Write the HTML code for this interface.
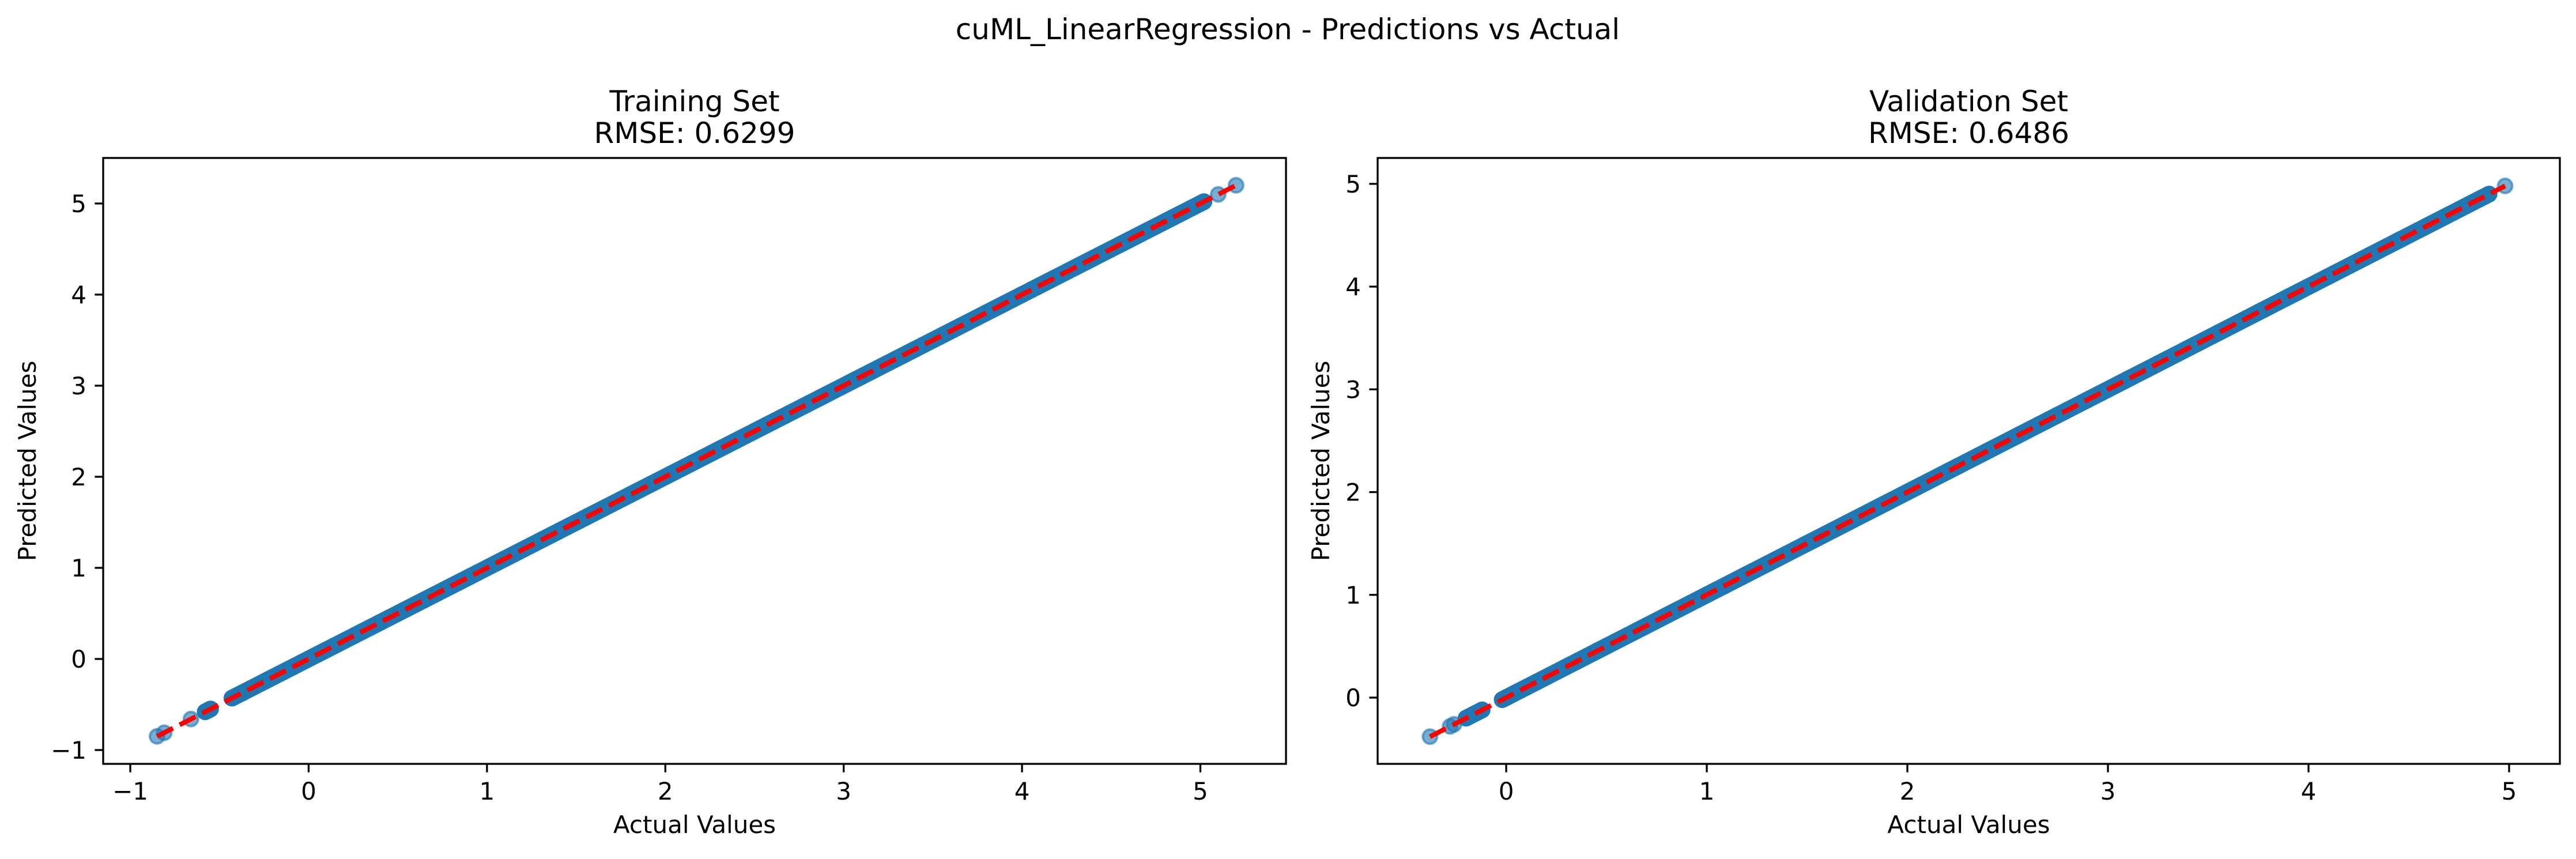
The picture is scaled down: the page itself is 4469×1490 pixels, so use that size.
<!DOCTYPE html>
<html><head><meta charset="utf-8"><style>
html,body{margin:0;padding:0;background:#fff;}
svg text{font-family:"DejaVu Sans","Liberation Sans",sans-serif;fill:#000;}
</style></head><body>
<svg id="fig" width="4469" height="1485" xmlns="http://www.w3.org/2000/svg">
<rect width="4469" height="1485" fill="#fff"/>
<text x="2234" y="68" font-size="50" text-anchor="middle">cuML_LinearRegression - Predictions vs Actual</text>
</svg>
<script>
const trainActual=[-0.85,-0.81,-0.66,-0.58,-0.56,-0.55,-0.43,-0.41,-0.38,-0.33,-0.30,-0.27,-0.24,-0.20,-0.15,-0.10,-0.05,0.00,0.05,0.10,0.15,0.20,0.25,0.30,0.35,0.40,0.45,0.50,0.55,0.60,0.65,0.70,0.75,0.80,0.85,0.90,0.95,1.00,1.05,1.10,1.15,1.20,1.25,1.30,1.35,1.40,1.45,1.50,1.55,1.60,1.65,1.70,1.75,1.80,1.85,1.90,1.95,2.00,2.05,2.10,2.15,2.20,2.25,2.30,2.35,2.40,2.45,2.50,2.55,2.60,2.65,2.70,2.75,2.80,2.85,2.90,2.95,3.00,3.05,3.10,3.15,3.20,3.25,3.30,3.35,3.40,3.45,3.50,3.55,3.60,3.65,3.70,3.75,3.80,3.85,3.90,3.95,4.00,4.05,4.10,4.15,4.20,4.25,4.30,4.35,4.40,4.45,4.50,4.55,4.60,4.65,4.70,4.75,4.80,4.85,4.90,4.95,5.00,5.02,5.10,5.20];
const trainPredicted=[-0.85,-0.81,-0.66,-0.58,-0.56,-0.55,-0.43,-0.41,-0.38,-0.33,-0.30,-0.27,-0.24,-0.20,-0.15,-0.10,-0.05,0.00,0.05,0.10,0.15,0.20,0.25,0.30,0.35,0.40,0.45,0.50,0.55,0.60,0.65,0.70,0.75,0.80,0.85,0.90,0.95,1.00,1.05,1.10,1.15,1.20,1.25,1.30,1.35,1.40,1.45,1.50,1.55,1.60,1.65,1.70,1.75,1.80,1.85,1.90,1.95,2.00,2.05,2.10,2.15,2.20,2.25,2.30,2.35,2.40,2.45,2.50,2.55,2.60,2.65,2.70,2.75,2.80,2.85,2.90,2.95,3.00,3.05,3.10,3.15,3.20,3.25,3.30,3.35,3.40,3.45,3.50,3.55,3.60,3.65,3.70,3.75,3.80,3.85,3.90,3.95,4.00,4.05,4.10,4.15,4.20,4.25,4.30,4.35,4.40,4.45,4.50,4.55,4.60,4.65,4.70,4.75,4.80,4.85,4.90,4.95,5.00,5.02,5.10,5.20];
const valActual=[-0.38,-0.28,-0.26,-0.20,-0.15,-0.12,-0.02,0.00,0.03,0.07,0.10,0.15,0.20,0.25,0.30,0.35,0.40,0.45,0.50,0.55,0.60,0.65,0.70,0.75,0.80,0.85,0.90,0.95,1.00,1.05,1.10,1.15,1.20,1.25,1.30,1.35,1.40,1.45,1.50,1.55,1.60,1.65,1.70,1.75,1.80,1.85,1.90,1.95,2.00,2.05,2.10,2.15,2.20,2.25,2.30,2.35,2.40,2.45,2.50,2.55,2.60,2.65,2.70,2.75,2.80,2.85,2.90,2.95,3.00,3.05,3.10,3.15,3.20,3.25,3.30,3.35,3.40,3.45,3.50,3.55,3.60,3.65,3.70,3.75,3.80,3.85,3.90,3.95,4.00,4.05,4.10,4.15,4.20,4.25,4.30,4.35,4.40,4.45,4.50,4.55,4.60,4.65,4.70,4.75,4.80,4.85,4.90,4.98];
const valPredicted=[-0.38,-0.28,-0.26,-0.20,-0.15,-0.12,-0.02,0.00,0.03,0.07,0.10,0.15,0.20,0.25,0.30,0.35,0.40,0.45,0.50,0.55,0.60,0.65,0.70,0.75,0.80,0.85,0.90,0.95,1.00,1.05,1.10,1.15,1.20,1.25,1.30,1.35,1.40,1.45,1.50,1.55,1.60,1.65,1.70,1.75,1.80,1.85,1.90,1.95,2.00,2.05,2.10,2.15,2.20,2.25,2.30,2.35,2.40,2.45,2.50,2.55,2.60,2.65,2.70,2.75,2.80,2.85,2.90,2.95,3.00,3.05,3.10,3.15,3.20,3.25,3.30,3.35,3.40,3.45,3.50,3.55,3.60,3.65,3.70,3.75,3.80,3.85,3.90,3.95,4.00,4.05,4.10,4.15,4.20,4.25,4.30,4.35,4.40,4.45,4.50,4.55,4.60,4.65,4.70,4.75,4.80,4.85,4.90,4.98];
const trainXTicks=[-1,0,1,2,3,4,5];
const trainYTicks=[-1,0,1,2,3,4,5];
const valXTicks=[0,1,2,3,4,5];
const valYTicks=[0,1,2,3,4,5];
const trainTitle=["Training Set","RMSE: 0.6299"];
const valTitle=["Validation Set","RMSE: 0.6486"];

const NS="http://www.w3.org/2000/svg";
const svg=document.getElementById('fig');
function mk(tag,attrs,parent){const e=document.createElementNS(NS,tag);for(const k in attrs)e.setAttribute(k,attrs[k]);(parent||svg).appendChild(e);return e;}
const fmt=v=>v<0?'\u2212'+Math.abs(v):String(v);

function panel(p){
  const g=mk('g',{});
  
  
  const sx=v=>p.l+(v-p.xmin)/(p.xmax-p.xmin)*(p.r-p.l);
  const sy=v=>p.b-(v-p.ymin)/(p.ymax-p.ymin)*(p.b-p.t);
  // points
  p.xs.forEach((v,i)=>{
    const c=mk('circle',{cx:sx(v),cy:sy(p.ys[i]),r:12.5,fill:'rgba(31,119,180,0.6)',stroke:'rgba(31,119,180,0.6)','stroke-width':4},g);
    
    
  });
  // dense band: connect consecutive close points (heavy overlap renders solid)
  let seg=[];
  const flush=()=>{
    if(seg.length>2){
      const pl=mk('polyline',{points:seg.map(q=>q.join(',')).join(' '),fill:'none',stroke:'#1f77b4','stroke-width':29,'stroke-linecap':'round','stroke-linejoin':'round'},g);
      
      
    }
    seg=[];
  };
  for(let i=0;i<p.xs.length;i++){
    if(i>0 && p.xs[i]-p.xs[i-1]>0.055) flush();
    seg.push([sx(p.xs[i]),sy(p.ys[i])]);
  }
  flush();
  const mn=Math.min(...p.xs),mx=Math.max(...p.xs);
  const ln=mk('line',{x1:sx(mn),y1:sy(mn),x2:sx(mx),y2:sy(mx),stroke:'#ff0000','stroke-width':8.3,'stroke-dasharray':'31 13'},g);
  
  
  const fr=mk('rect',{x:p.l,y:p.t,width:p.r-p.l,height:p.b-p.t,fill:'none',stroke:'#000','stroke-width':3.3},g);
  
  
  p.xt.forEach(v=>{
    const x=sx(v);
    mk('line',{x1:x,y1:p.b,x2:x,y2:p.b+14.6,stroke:'#000','stroke-width':3.3},g);
    const t=mk('text',{x:x,y:1387,'font-size':42,'text-anchor':'middle'},g);
    t.textContent=fmt(v);
    
    
  });
  p.yt.forEach(v=>{
    const y=sy(v);
    mk('line',{x1:p.l,y1:y,x2:p.l-14.6,y2:y,stroke:'#000','stroke-width':3.3},g);
    const t=mk('text',{x:p.l-29,y:y+15,'font-size':42,'text-anchor':'end'},g);
    t.textContent=fmt(v);
    
    
  });
  const cx=(p.l+p.r)/2;
  const xl=mk('text',{x:cx,y:1445,'font-size':42,'text-anchor':'middle'},g);
  xl.textContent='Actual Values';
  
  
  const ym=(p.t+p.b)/2;
  const yl=mk('text',{x:p.ylx,y:ym,'font-size':42,'text-anchor':'middle',transform:`rotate(-90 ${p.ylx} ${ym})`},g);
  yl.textContent='Predicted Values';
  
  
  const t1=mk('text',{x:cx,y:193,'font-size':50,'text-anchor':'middle'},g);
  t1.textContent=p.title[0];
  
  
  const t2=mk('text',{x:cx,y:248,'font-size':50,'text-anchor':'middle'},g);
  t2.textContent=p.title[1];
  
  
}
panel({name:'training-set-panel',l:179,r:2231,t:274,b:1325,xmin:-1.152,xmax:5.48,ymin:-1.152,ymax:5.5,xs:trainActual,ys:trainPredicted,xt:trainXTicks,yt:trainYTicks,title:trainTitle,ylx:62});
panel({name:'validation-set-panel',l:2390,r:4441,t:274,b:1325,xmin:-0.641,xmax:5.253,ymin:-0.645,ymax:5.252,xs:valActual,ys:valPredicted,xt:valXTicks,yt:valYTicks,title:valTitle,ylx:2306});
</script>
</body></html>
